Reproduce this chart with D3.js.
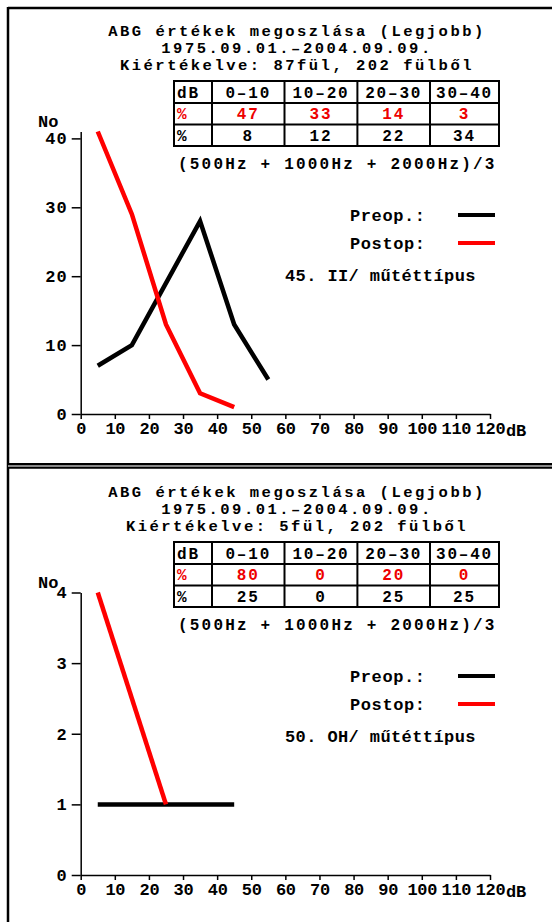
<!DOCTYPE html>
<html><head><meta charset="utf-8">
<script src="https://cdn.jsdelivr.net/npm/d3@7"></script>
<style>
body{margin:0;background:#fff}
svg{display:block}
text{font-family:"Liberation Mono","Courier New",monospace;font-weight:bold;fill:#000}
</style>
</head><body>
<svg id="c" width="552" height="922"></svg>
<script>
// ---------- shared data ----------
const xTicks = [0,10,20,30,40,50,60,70,80,90,100,110,120];
const tableHeader = ["dB","0–10","10–20","20–30","30–40"];
const pctLabel = "%";
const footnote = "(500Hz + 1000Hz + 2000Hz)/3";
const legendLabels = ["Preop.:","Postop:"];
const yLabel = "No";
const xUnit = "dB";

// ---------- panel 1 ----------
const p1Title = ["ABG értékek megoszlása (Legjobb)","1975.09.01.–2004.09.09.","Kiértékelve: 87fül, 202 fülből"];
const p1PostopPct = [47,33,14,3];
const p1PreopPct = [8,12,22,34];
const p1PreopX = [5,15,25,35,45,55];
const p1PreopY = [7,10,19,28,13,5];
const p1PostopX = [5,15,25,35,45];
const p1PostopY = [41,29,13,3,1];
const p1YTicks = [0,10,20,30,40];
const p1YMax = 41;
const p1Type = "45. II/ műtéttípus";

// ---------- panel 2 ----------
const p2Title = ["ABG értékek megoszlása (Legjobb)","1975.09.01.–2004.09.09.","Kiértékelve: 5fül, 202 fülből"];
const p2PostopPct = [80,0,20,0];
const p2PreopPct = [25,0,25,25];
const p2PreopX = [5,15,25,35,45];
const p2PreopY = [1,1,1,1,1];
const p2PostopX = [5,25];
const p2PostopY = [4,1];
const p2YTicks = [0,1,2,3,4];
const p2YMax = 4;
const p2Type = "50. OH/ műtéttípus";

const RED = "#ee0000";
const svg = d3.select("#c");
svg.append("rect").attr("width",552).attr("height",922).attr("fill","#fff");

function panel(oy, cfg){
  const g = svg.append("g").attr("transform",`translate(0,${oy})`);
  // titles
  const tb = [36,53,70];
  cfg.title.forEach((t,i)=>{
    g.append("text").attr("x",297).attr("y",tb[i]).attr("text-anchor","middle")
     .style("font-size","15.5px").style("letter-spacing","2.5px").text(t);
  });
  // table
  const cols = [174,212,284.5,357.4,430,499];
  const rows = [81,103,124.5,146];
  g.append("rect").attr("x",cols[0]).attr("y",rows[0]).attr("width",cols[5]-cols[0]).attr("height",rows[3]-rows[0])
   .attr("fill","none").attr("stroke","#000").attr("stroke-width",2);
  cols.slice(1,5).forEach(c=>g.append("line").attr("x1",c).attr("x2",c).attr("y1",rows[0]).attr("y2",rows[3]).attr("stroke","#000").attr("stroke-width",2));
  rows.slice(1,3).forEach(r=>g.append("line").attr("x1",cols[0]).attr("x2",cols[5]).attr("y1",r).attr("y2",r).attr("stroke","#000").attr("stroke-width",2));
  const rowData = [tableHeader, [pctLabel].concat(cfg.postopPct), [pctLabel].concat(cfg.preopPct)];
  rowData.forEach((row,ri)=>{
    row.forEach((v,ci)=>{
      const cy = (rows[ri]+rows[ri+1])/2 + 5.5;
      const t = g.append("text").attr("y",cy).style("font-size","16px").style("letter-spacing","1.8px").text(v);
      if(ci===0){ t.attr("x",cols[0]+3); }
      else { t.attr("x",(cols[ci]+cols[ci+1])/2).attr("text-anchor","middle"); }
      if(ri===1) t.style("fill",RED);
    });
  });
  g.append("text").attr("x",178).attr("y",169).style("font-size","16px").style("letter-spacing","2.2px").text(footnote);

  // scales
  const x = d3.scaleLinear().domain([0,120]).range([80.7,490]);
  const y = d3.scaleLinear().domain([0,cfg.yMax]).range([414,131.5]);

  const xa = g.append("g").attr("transform","translate(0,414)")
    .call(d3.axisBottom(x).tickValues(xTicks).tickSize(5).tickSizeOuter(0).tickPadding(3));
  const ya = g.append("g").attr("transform","translate(80.7,0)")
    .call(d3.axisLeft(y).tickValues(cfg.yTicks).tickSize(9).tickSizeOuter(0).tickPadding(4).tickFormat(d3.format("d")));
  [xa,ya].forEach((a,i)=>{
    a.selectAll("path,line").attr("stroke","#000").attr("stroke-width",1.5);
    a.selectAll("text").style("font-family",'"Liberation Mono","Courier New",monospace')
      .style("font-weight","bold").style("font-size","17px").style("letter-spacing", i===0 ? "-0.3px" : "1px").attr("fill","#000");
  });
  g.append("text").attr("x",38).attr("y",127).style("font-size","17px").text(yLabel);
  g.append("text").attr("x",506).attr("y",436).style("font-size","17px").style("letter-spacing","-0.3px").text(xUnit);

  const line = d3.line().x(d=>x(d[0])).y(d=>y(d[1]));
  g.append("path").datum(d3.zip(cfg.preopX,cfg.preopY)).attr("d",line)
   .attr("fill","none").attr("stroke","#000").attr("stroke-width",4.5).attr("stroke-linejoin","miter");
  g.append("path").datum(d3.zip(cfg.postopX,cfg.postopY)).attr("d",line)
   .attr("fill","none").attr("stroke","#f00").attr("stroke-width",4.5).attr("stroke-linejoin","miter");

  // legend
  const ly = [215,243];
  legendLabels.forEach((l,i)=>{
    g.append("text").attr("x",350).attr("y",ly[i]+6).style("font-size","17px").style("letter-spacing","0.6px").text(l);
    g.append("line").attr("x1",458).attr("x2",495).attr("y1",ly[i]).attr("y2",ly[i])
     .attr("stroke", i===0?"#000":"#f00").attr("stroke-width",4);
  });
  g.append("text").attr("x",285).attr("y",281).style("font-size","17px").style("letter-spacing","0.4px").text(cfg.type);
}

panel(0,{title:p1Title,postopPct:p1PostopPct,preopPct:p1PreopPct,preopX:p1PreopX,preopY:p1PreopY,
  postopX:p1PostopX,postopY:p1PostopY,yTicks:p1YTicks,yMax:p1YMax,type:p1Type});
panel(461,{title:p2Title,postopPct:p2PostopPct,preopPct:p2PreopPct,preopX:p2PreopX,preopY:p2PreopY,
  postopX:p2PostopX,postopY:p2PostopY,yTicks:p2YTicks,yMax:p2YMax,type:p2Type});

// frame
svg.append("line").attr("x1",8).attr("x2",552).attr("y1",8).attr("y2",8).attr("stroke","#000").attr("stroke-width",2.5);
svg.append("line").attr("x1",8).attr("x2",8).attr("y1",7).attr("y2",922).attr("stroke","#000").attr("stroke-width",2.5);
svg.append("line").attr("x1",8).attr("x2",552).attr("y1",466).attr("y2",466).attr("stroke","#888").attr("stroke-width",2);
svg.append("line").attr("x1",8).attr("x2",552).attr("y1",464).attr("y2",464).attr("stroke","#000").attr("stroke-width",2);
svg.append("line").attr("x1",8).attr("x2",552).attr("y1",467.8).attr("y2",467.8).attr("stroke","#000").attr("stroke-width",1.8);
</script>
</body></html>
